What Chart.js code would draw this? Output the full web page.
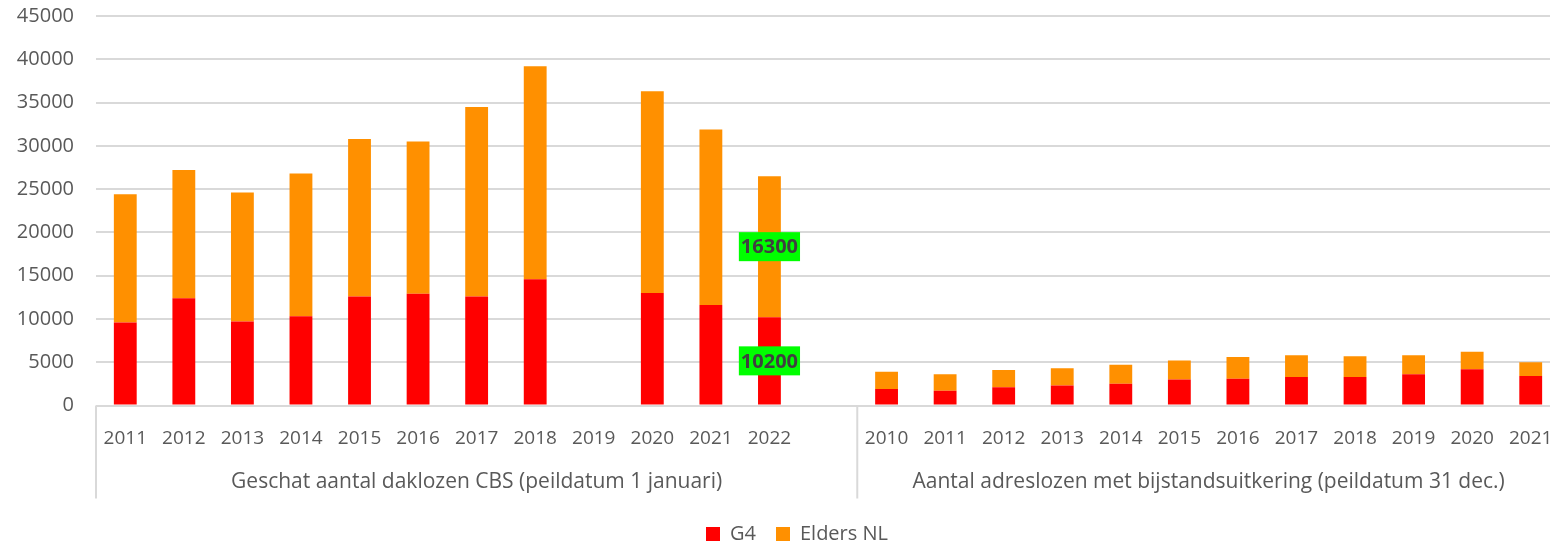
<!DOCTYPE html>
<html>
<head>
<meta charset="utf-8">
<script src="https://cdn.jsdelivr.net/npm/chart.js@4.4.1/dist/chart.umd.min.js"></script>
<style>
  html, body { margin: 0; padding: 0; background: #fff; overflow: hidden; }
  #wrap { position: absolute; left: 0; top: 0; width: 1594px; height: 546px; }
</style>
</head>
<body>
<div id="wrap"><canvas id="chart"></canvas></div>
<script>
// Data
var cbsYears = ['2011', '2012', '2013', '2014', '2015', '2016', '2017', '2018', '2019', '2020', '2021', '2022', ''];
var cbsG4 = [9600, 12400, 9700, 10300, 12600, 12900, 12600, 14600, null, 13000, 11600, 10200, null];
var cbsElders = [14800, 14800, 14900, 16500, 18200, 17600, 21900, 24600, null, 23300, 20300, 16300, null];

var bijstandYears = ['2010', '2011', '2012', '2013', '2014', '2015', '2016', '2017', '2018', '2019', '2020', '2021'];
var bijstandG4 = [1900, 1700, 2100, 2300, 2500, 3000, 3100, 3300, 3300, 3600, 4200, 3400];
var bijstandElders = [2000, 1900, 2000, 2000, 2200, 2200, 2500, 2500, 2400, 2200, 2000, 1600];

var groupNames = ['Geschat aantal daklozen CBS (peildatum 1 januari)', 'Aantal adreslozen met bijstandsuitkering (peildatum 31 dec.)'];
var groupSizes = [cbsYears.length, bijstandYears.length];
var yTicks = [0, 5000, 10000, 15000, 20000, 25000, 30000, 35000, 40000, 45000];
var labelledCats = [11]; // 2022 CBS gets green value labels

var labels = cbsYears.concat(bijstandYears);
var g4 = cbsG4.concat(bijstandG4);
var elders = cbsElders.concat(bijstandElders);

var FONT = '"Open Sans", sans-serif';
var GREY = '#595959';
var LINE = '#d9d9d9';

// group separators + group names below the year labels
var groupAxis = {
    id: 'groupAxis',
    afterLayout: function(chart) {
        // legend sits centred on the whole canvas, not just the chart area
        chart.legend.left += 17;
        chart.legend.right += 17;
    },
    afterDraw: function(chart) {
        var ctx = chart.ctx;
        var xs = chart.scales.x;
        var top = chart.chartArea.bottom;
        var step = xs.getPixelForValue(1) - xs.getPixelForValue(0);
        var edges = [xs.getPixelForValue(0) - step / 2];
        var n = 0;
        groupSizes.forEach(function(s) {
            n += s;
            edges.push(xs.getPixelForValue(n - 1) + step / 2);
        });
        ctx.save();
        ctx.strokeStyle = LINE;
        ctx.lineWidth = 2;
        edges.forEach(function(x) {
            ctx.beginPath();
            ctx.moveTo(x, top);
            ctx.lineTo(x, top + 93);
            ctx.stroke();
        });
        ctx.fillStyle = GREY;
        ctx.font = '21px ' + FONT;
        ctx.textAlign = 'center';
        ctx.textBaseline = 'middle';
        groupNames.forEach(function(name, i) {
            ctx.fillText(name, (edges[i] + edges[i + 1]) / 2, top + 77);
        });
        ctx.restore();
    }
};

// green boxed value labels
var valueLabels = {
    id: 'valueLabels',
    afterDatasetsDraw: function(chart) {
        var ctx = chart.ctx;
        ctx.save();
        ctx.font = 'bold 20px ' + FONT;
        ctx.textAlign = 'center';
        ctx.textBaseline = 'middle';
        chart.data.datasets.forEach(function(ds, d) {
            var meta = chart.getDatasetMeta(d);
            labelledCats.forEach(function(i) {
                var el = meta.data[i];
                var v = ds.data[i];
                var txt = String(v);
                var w = ctx.measureText(txt).width + 4;
                var cx = el.x;
                var cy = (el.y + el.base) / 2;
                ctx.fillStyle = '#00ff00';
                ctx.fillRect(cx - w / 2, cy - 14.5, w, 29);
                ctx.fillStyle = '#404040';
                ctx.fillText(txt, cx, cy + 1);
            });
        });
        ctx.restore();
    }
};

new Chart(document.getElementById('chart').getContext('2d'), {
    type: 'bar',
    data: {
        labels: labels,
        datasets: [
            { label: 'G4', data: g4, backgroundColor: '#ff0000', borderWidth: 0 },
            { label: 'Elders NL', data: elders, backgroundColor: '#ff9000', borderWidth: 0 }
        ]
    },
    options: {
        responsive: true,
        maintainAspectRatio: false,
        animation: false,
        layout: { padding: { top: 16, right: 34, bottom: -8, left: 0 } },
        datasets: { bar: { barPercentage: 0.39, categoryPercentage: 1 } },
        plugins: {
            tooltip: { enabled: false },
            legend: {
                position: 'bottom',
                labels: {
                    boxWidth: 14, boxHeight: 14, padding: 20,
                    color: GREY,
                    font: { family: FONT, size: 20 }
                }
            }
        },
        scales: {
            x: {
                stacked: true,
                grid: { display: false, drawTicks: false },
                border: { display: false },
                ticks: {
                    color: GREY, padding: 22, maxRotation: 0, autoSkip: false,
                    font: { family: FONT, size: 19 }
                },
                afterFit: function(scale) { scale.height = 98.5; }
            },
            y: {
                stacked: true,
                min: 0, max: 45000,
                afterBuildTicks: function(scale) {
                    scale.ticks = yTicks.map(function(v) { return { value: v }; });
                },
                grid: { color: LINE, lineWidth: 2, drawTicks: false },
                border: { display: false },
                ticks: {
                    color: GREY, padding: 22,
                    font: { family: FONT, size: 20 },
                    callback: function(v) { return String(v); }
                },
                afterFit: function(scale) {
                    scale.width = 96;
                    scale.paddingTop = 0;
                    scale.paddingBottom = 0;
                }
            }
        }
    },
    plugins: [groupAxis, valueLabels]
});
</script>
</body>
</html>
